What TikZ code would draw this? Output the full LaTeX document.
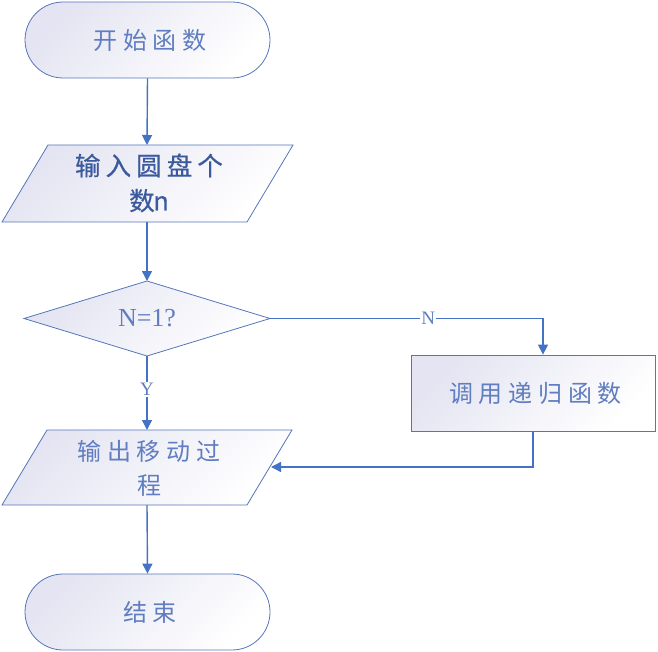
\documentclass[tikz,border=0pt]{standalone}
\usepackage{fontspec}
\setmainfont{Liberation Serif}
\newfontfamily\cjk{Noto Sans CJK SC}[LetterSpace=24]
\newfontfamily\cjkb{Noto Sans CJK SC}[LetterSpace=20,FakeBold=0.6]
\usetikzlibrary{arrows.meta,shapes.misc}
\definecolor{lav}{HTML}{E4E4F2}
\definecolor{bdr}{HTML}{5575BA}
\definecolor{arr}{HTML}{4472C4}
\definecolor{txtdark}{HTML}{3B5A9E}
\definecolor{txtlight}{HTML}{5F7DC0}
\tikzset{
  shapefill/.style={draw=bdr, line width=0.8pt, top color=lav, bottom color=white, shading angle=45},
  terminal/.style={shapefill, rounded rectangle, minimum width=245pt, minimum height=76pt, inner sep=0pt},
  procbox/.style={shapefill, rectangle, minimum width=244pt, minimum height=76pt, inner sep=0pt},
  conn/.style={draw=arr, line width=1.4pt, -{Triangle[length=10pt,width=10pt]}},
  cjklbl/.style={font=\cjk\fontsize{24}{34}\selectfont, text=txtlight, align=center},
  cjkbold/.style={font=\cjkb\fontsize{25.5}{35}\selectfont, text=txtdark, align=center},
  serlbl/.style={font=\fontsize{26}{30}\selectfont, text=txtlight},
  branchlbl/.style={font=\fontsize{19}{22}\selectfont, text=txtlight, fill=white, inner sep=1pt}
}
\begin{document}
\begin{tikzpicture}[x=1pt,y=-1pt]
\useasboundingbox (0,0) rectangle (658,652);
% start
\node[terminal, cjklbl] (start) at (147.5,40) {\hspace*{5pt}开始函数};
% input parallelogram
\path[shapefill] (48,145) -- (293,145) -- (247,222) -- (2,222) -- cycle;
\coordinate (intop) at (147,145);
\coordinate (inbot) at (147,222);
\node[cjkbold] (input) at (149,183) {输入圆盘个\\数\kern-1.5pt n};
% decision diamond
\path[shapefill] (147,281) -- (270,318.5) -- (147,356) -- (24,318.5) -- cycle;
\coordinate (dtop) at (147,281);
\coordinate (dright) at (270,318.5);
\coordinate (dbot) at (147,356);
\node[serlbl] (dec) at (147,318) {N=1?};
% process
\node[procbox, cjklbl] (proc) at (533,393) {\hspace*{5pt}调用递归函数};
% output parallelogram
\path[shapefill] (47,430) -- (292,430) -- (247,505) -- (2,505) -- cycle;
\coordinate (outtop) at (147,430);
\coordinate (outbot) at (147,505);
\coordinate (outright) at (271,467);
\node[cjklbl] (output) at (149,468) {输出移动过\\程};
% end
\node[terminal, cjklbl] (finish) at (147.5,612) {\hspace*{5pt}结束};
% connectors
\draw[conn] (start.south) -- (intop);
\draw[conn] (inbot) -- (dtop);
\draw[conn] (dbot) -- (outtop) node[pos=0.45, branchlbl] (ylbl) {Y};
\draw[conn] (dright) -- (543,318.5) node[pos=0.58, branchlbl] (nlbl) {N} -- (proc.north -| 543,0);
\draw[conn] (proc.south) |- (outright);
\draw[conn] (outbot) -- (finish.north);
\end{tikzpicture}
\end{document}
